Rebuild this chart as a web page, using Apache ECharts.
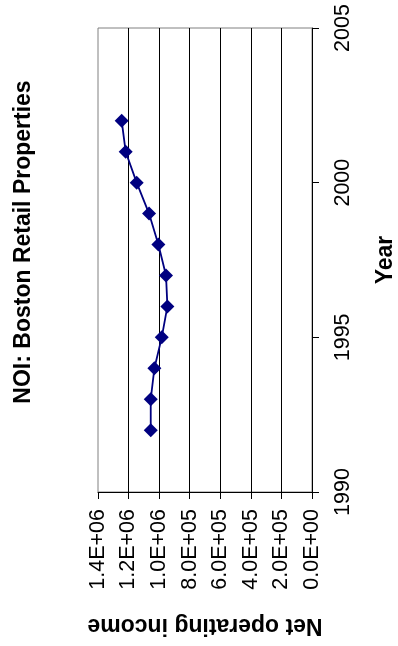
<!DOCTYPE html>
<html>
<head>
<meta charset="utf-8">
<script src="https://cdn.jsdelivr.net/npm/echarts@6/dist/echarts.min.js"></script>
<style>
html,body{margin:0;padding:0;background:#fff;}
#chart{width:398px;height:646px;}
</style>
</head>
<body>
<div id="chart"></div>
<script>
var years = [1992, 1993, 1994, 1995, 1996, 1997, 1998, 1999, 2000, 2001, 2002];
var noi = [1055000, 1055000, 1031000, 983000, 946000, 955000, 1005000, 1066000, 1147000, 1219000, 1245000];
var titleText = 'NOI: Boston Retail Properties';
var xName = 'Net operating income';
var yName = 'Year';

function sci(v) {
  if (v === 0) return '0.0E+00';
  var e = Math.floor(Math.log10(Math.abs(v)) + 1e-9);
  var m = v / Math.pow(10, e);
  var es = (e < 0 ? '-' : '+') + (Math.abs(e) < 10 ? '0' : '') + Math.abs(e);
  return m.toFixed(1) + 'E' + es;
}

var FONT = "'Liberation Sans', Arial, sans-serif";
var chart = echarts.init(document.getElementById('chart'));
chart.setOption({
  animation: false,
  backgroundColor: '#ffffff',
  grid: {left: 98, right: 86, top: 28, bottom: 154, show: true, borderColor: '#808080', borderWidth: 1, backgroundColor: 'transparent', containLabel: false, outerBoundsMode: 'none'},
  graphic: [{
    type: 'text',
    x: 24, y: 242,
    rotation: Math.PI / 2,
    style: {text: titleText, font: "bold 23px 'Liberation Sans', Arial, sans-serif", fill: '#000', align: 'center', verticalAlign: 'middle'}
  }],
  xAxis: {
    type: 'value',
    min: 0, max: 1400000, interval: 200000,
    inverse: true,
    position: 'bottom',
    name: xName,
    nameLocation: 'middle',
    nameRotate: 180,
    nameGap: 122,
    nameTextStyle: {fontFamily: FONT, fontWeight: 'bold', fontSize: 23, color: '#000'},
    axisLine: {show: true, onZero: false, lineStyle: {color: '#000', width: 1}},
    axisTick: {show: true, inside: false, length: 7, lineStyle: {color: '#000'}},
    axisLabel: {rotate: 90, margin: 17, fontFamily: FONT, fontSize: 21.5, color: '#000', formatter: function (v) { return sci(v); }},
    splitLine: {show: true, showMinLine: false, showMaxLine: false, lineStyle: {color: '#000', width: 1}}
  },
  yAxis: {
    type: 'value',
    min: 1990, max: 2005, interval: 5,
    position: 'right',
    name: yName,
    nameLocation: 'middle',
    nameRotate: 90,
    nameGap: 62,
    nameTextStyle: {fontFamily: FONT, fontWeight: 'bold', fontSize: 23, color: '#000'},
    axisLine: {show: true, onZero: false, lineStyle: {color: '#000', width: 1}},
    axisTick: {show: true, inside: false, length: 7, lineStyle: {color: '#000'}},
    axisLabel: {rotate: 90, margin: 20, fontFamily: FONT, fontSize: 21.5, color: '#000', formatter: function (v) { return String(v); }},
    splitLine: {show: false}
  },
  series: [{
    type: 'line',
    data: years.map(function (y, i) { return [noi[i], y]; }),
    symbol: 'diamond',
    symbolSize: 14,
    showAllSymbol: true,
    lineStyle: {color: '#000080', width: 1.8},
    itemStyle: {color: '#000080'}
  }]
});
</script>
</body>
</html>
